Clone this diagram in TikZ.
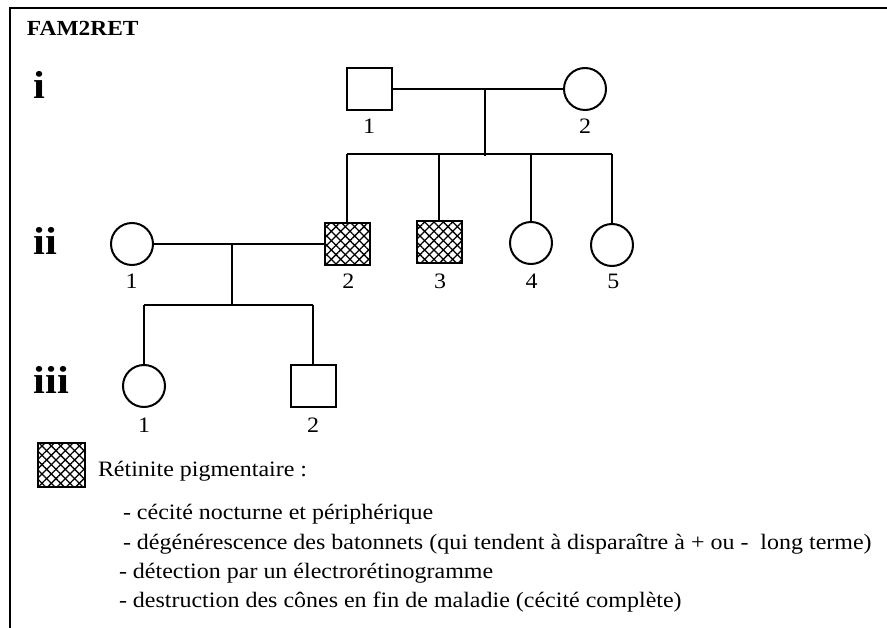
\documentclass[tikz,border=0pt]{standalone}
\usepackage{fontspec}
\setmainfont{Liberation Serif}[FakeStretch=1.09]
\usetikzlibrary{patterns.meta}
\begin{document}
\begin{tikzpicture}[x=1pt,y=-1pt,
  line width=2pt,
  conn/.style={line width=2pt},
  male/.style={draw, line width=2pt, rectangle, minimum width=45pt, minimum height=42pt, inner sep=0pt},
  female/.style={draw, line width=2pt, circle, minimum size=42pt, inner sep=0pt},
  hatched/.style={
    postaction={pattern={Lines[angle=45,distance=6.6pt,line width=1.3pt]}},
    postaction={pattern={Lines[angle=-45,distance=6.6pt,line width=1.3pt]}}},
  num/.style={anchor=base, inner sep=0pt, font=\fontsize{22}{26}\selectfont},
  gen/.style={anchor=base west, inner sep=0pt, font=\fontsize{39}{44}\selectfont\bfseries},
  txt/.style={anchor=base west, inner sep=0pt, font=\fontsize{22}{26}\selectfont},
]
\useasboundingbox (0,0) rectangle (887,628);

% frame (open to the right and bottom)
\draw[line width=2pt] (10,640) -- (10,8) -- (900,8);

% title and generation labels
\node[anchor=base west, inner sep=0pt, font=\fontsize{21.5}{26}\selectfont\bfseries] (title) at (26,36) {FAM2RET};
\node[gen] (g1) at (33,99) {i};
\node[gen] (g2) at (33,255) {ii};
\node[gen] (g3) at (33,394) {iii};

% generation i
\node[male]   (I1) at (369,89) {};
\node[female] (I2) at (585,89) {};
\node[num] (nI1) at (I1 |- 0,134) {1};
\node[num] (nI2) at (I2 |- 0,134) {2};

% generation ii
\node[female]         (II1) at (132,244) {};
\node[male, hatched]  (II2) at (347,244) {};
\node[male, hatched]  (II3) at (439,242) {};
\node[female]         (II4) at (531,243) {};
\node[female]         (II5) at (612,245) {};
\node[num] (nII1) at (131.7,289) {1};
\node[num] (nII2) at (348.3,289) {2};
\node[num] (nII3) at (440,289) {3};
\node[num] (nII4) at (531.7,289) {4};
\node[num] (nII5) at (613.3,289) {5};

% generation iii
\node[female] (III1) at (144,386) {};
\node[male]   (III2) at (313,386) {};
\node[num] (nIII1) at (III1 |- 0,433) {1};
\node[num] (nIII2) at (III2 |- 0,433) {2};

% couple i and its children
\coordinate (m1) at (485,89);
\coordinate (s1) at (485,156);
\draw[conn] (I1) -- (I2);
\draw[conn] (m1) -- (s1);
\draw[conn] (II2.north |- 0,154) -- (II5.north |- 0,154);
\foreach \c in {II2,II3,II4,II5} \draw[conn] (\c.north) -- (\c.north |- 0,154);

% couple ii and its children
\coordinate (m2) at (232,244);
\coordinate (s2) at (232,305);
\draw[conn] (II1) -- (II2);
\draw[conn] (m2) -- (s2);
\draw[conn] (III1.north |- s2) -- (III2.north |- s2);
\foreach \c in {III1,III2} \draw[conn] (\c.north) -- (\c.north |- s2);

% key
\node[male, hatched, minimum width=47pt, minimum height=43pt] (key) at (61,465) {};
\node[txt] (k0) at (97,476) {Rétinite pigmentaire :};
\node[txt] (k1) at (122,519) {- cécité nocturne et périphérique};
\node[txt] (k2) at (122,549) {- dégénérescence des batonnets (qui tendent à disparaître à + ou -\ \ long terme)};
\node[txt] (k3) at (118,578) {- détection par un électrorétinogramme};
\node[txt] (k4) at (118,607) {- destruction des cônes en fin de maladie (cécité complète)};
\end{tikzpicture}
\end{document}
